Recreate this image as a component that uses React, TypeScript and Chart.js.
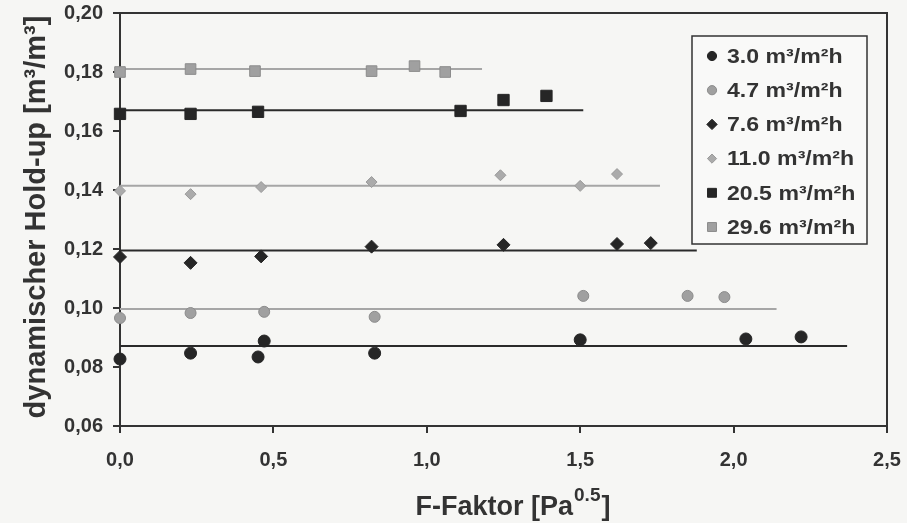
import React, { useEffect, useRef } from 'react';
import { Chart, registerables } from 'chart.js';

Chart.register(...registerables);

// ---------- data ----------
const seriesLabels = ['3.0 m³/m²h', '4.7 m³/m²h', '7.6 m³/m²h', '11.0 m³/m²h', '20.5 m³/m²h', '29.6 m³/m²h'];

const x30 = [0.0, 0.23, 0.45, 0.47, 0.83, 1.5, 2.04, 2.22];
const y30 = [0.0827, 0.0847, 0.0834, 0.0888, 0.0847, 0.0892, 0.0895, 0.0902];

const x47 = [0.0, 0.23, 0.47, 0.83, 1.51, 1.85, 1.97];
const y47 = [0.0966, 0.0983, 0.0987, 0.097, 0.1041, 0.1041, 0.1037];

const x76 = [0.0, 0.23, 0.46, 0.82, 1.25, 1.62, 1.73];
const y76 = [0.1173, 0.1153, 0.1175, 0.1208, 0.1214, 0.1217, 0.122];

const x110 = [0.0, 0.23, 0.46, 0.82, 1.24, 1.5, 1.62];
const y110 = [0.1397, 0.1386, 0.141, 0.1427, 0.145, 0.1414, 0.1454];

const x205 = [0.0, 0.23, 0.45, 1.11, 1.25, 1.39];
const y205 = [0.1658, 0.1658, 0.1665, 0.1668, 0.1705, 0.1719];

const x296 = [0.0, 0.23, 0.44, 0.82, 0.96, 1.06];
const y296 = [0.18, 0.181, 0.1803, 0.1803, 0.182, 0.18];

const fitLevels = [0.0871, 0.0997, 0.1195, 0.1414, 0.167, 0.181];
const fitStarts = [0, 0, 0, 0, 0, 0];
const fitEnds = [2.37, 2.14, 1.88, 1.76, 1.51, 1.18];

const xMin = 0;
const xMax = 2.5;
const xStep = 0.5;
const yMin = 0.06;
const yMax = 0.2;
const yStep = 0.02;

const xTitleMain = 'F-Faktor [Pa';
const xTitleSup = '0.5';
const xTitleEnd = ']';
const yTitle = 'dynamischer Hold-up [m³/m³]';

// ---------- styles ----------
const FONT = '"Liberation Sans", Arial, Helvetica, sans-serif';
const TEXT = '#333333';
const markerStyles = [
  { shape: 'circle', fill: '#262626', stroke: '#262626', r: 6, lr: 4.6 },
  { shape: 'circle', fill: '#a0a0a0', stroke: '#8c8c8c', r: 5.5, lr: 4.6 },
  { shape: 'rectRot', fill: '#262626', stroke: '#262626', r: 6.5, lr: 5.2 },
  { shape: 'rectRot', fill: '#ababab', stroke: '#9a9a9a', r: 5.5, lr: 4.6 },
  { shape: 'rect', fill: '#262626', stroke: '#262626', r: 8, lr: 6.3 },
  { shape: 'rect', fill: '#a0a0a0', stroke: '#8c8c8c', r: 7.5, lr: 6.3 },
];
const lineStyles = [
  { color: '#2a2a2a', width: 2 },
  { color: '#a6a6a6', width: 2 },
  { color: '#2a2a2a', width: 2 },
  { color: '#a6a6a6', width: 2 },
  { color: '#2a2a2a', width: 2 },
  { color: '#a6a6a6', width: 2 },
];

const seriesX = [x30, x47, x76, x110, x205, x296];
const seriesY = [y30, y47, y76, y110, y205, y296];

function drawMarker(ctx: CanvasRenderingContext2D, shape: string, x: number, y: number, r: number, fill: string, stroke: string) {
  ctx.save();
  ctx.fillStyle = fill;
  ctx.strokeStyle = stroke;
  ctx.lineWidth = 1;
  ctx.beginPath();
  if (shape === 'circle') {
    ctx.arc(x, y, r, 0, Math.PI * 2);
  } else if (shape === 'rectRot') {
    ctx.moveTo(x, y - r);
    ctx.lineTo(x + r, y);
    ctx.lineTo(x, y + r);
    ctx.lineTo(x - r, y);
    ctx.closePath();
  } else {
    const h = r * Math.SQRT1_2;
    ctx.rect(x - h, y - h, 2 * h, 2 * h);
  }
  ctx.fill();
  ctx.stroke();
  ctx.restore();
}

const decorPlugin = {
  id: 'decor',
  beforeDraw(chart: any) {
    const { ctx, width, height } = chart;
    ctx.save();
    ctx.fillStyle = '#f6f6f4';
    ctx.fillRect(0, 0, width, height);
    ctx.restore();
  },
  beforeDatasetsDraw(chart: any) {
    const { ctx, chartArea } = chart;
    ctx.save();
    ctx.strokeStyle = TEXT;
    ctx.lineWidth = 2;
    ctx.beginPath();
    ctx.moveTo(chartArea.left, chartArea.top);
    ctx.lineTo(chartArea.right, chartArea.top);
    ctx.lineTo(chartArea.right, chartArea.bottom);
    ctx.stroke();
    ctx.restore();
  },
  afterDraw(chart: any) {
    const { ctx } = chart;
    // legend
    const lx = 692, ly = 36, lw = 175, lh = 208;
    ctx.save();
    ctx.fillStyle = '#f9f9f8';
    ctx.fillRect(lx, ly, lw, lh);
    ctx.strokeStyle = TEXT;
    ctx.lineWidth = 1.5;
    ctx.strokeRect(lx, ly, lw, lh);
    ctx.font = `bold 21px ${FONT}`;
    ctx.fillStyle = TEXT;
    ctx.textBaseline = 'middle';
    ctx.textAlign = 'left';
    seriesLabels.forEach((lab, i) => {
      const cy = 56 + i * 34.2;
      const m = markerStyles[i];
      drawMarker(ctx, m.shape, 712, cy, m.lr, m.fill, m.stroke);
      ctx.save();
      ctx.translate(727, cy + 1);
      ctx.scale(1.1, 1);
      ctx.fillStyle = TEXT;
      ctx.fillText(lab, 0, 0);
      ctx.restore();
    });
    ctx.restore();

    // y title
    ctx.save();
    ctx.translate(45, 217);
    ctx.rotate(-Math.PI / 2);
    ctx.font = `bold 29px ${FONT}`;
    ctx.fillStyle = TEXT;
    ctx.textAlign = 'center';
    ctx.textBaseline = 'alphabetic';
    ctx.fillText(yTitle, 0, 0);
    ctx.restore();

    // x title with superscript
    ctx.save();
    ctx.fillStyle = TEXT;
    ctx.textBaseline = 'alphabetic';
    ctx.textAlign = 'left';
    const mainFont = `bold 27px ${FONT}`;
    const supFont = `bold 19px ${FONT}`;
    ctx.font = mainFont;
    const w1 = ctx.measureText(xTitleMain).width;
    const w3 = ctx.measureText(xTitleEnd).width;
    ctx.font = supFont;
    const w2 = ctx.measureText(xTitleSup).width;
    const total = w1 + w2 + w3 + 2;
    let x = 513 - total / 2;
    const base = 515;
    ctx.font = mainFont;
    ctx.fillText(xTitleMain, x, base);
    x += w1 + 1;
    ctx.font = supFont;
    ctx.fillText(xTitleSup, x, base - 14);
    x += w2 + 1;
    ctx.font = mainFont;
    ctx.fillText(xTitleEnd, x, base);
    ctx.restore();
  },
};

export default function App() {
  const ref = useRef<HTMLCanvasElement | null>(null);

  useEffect(() => {
    if (!ref.current) return;
    const datasets: any[] = [];
    seriesLabels.forEach((lab, i) => {
      const m = markerStyles[i];
      datasets.push({
        label: lab,
        data: seriesX[i].map((xv, j) => ({ x: xv, y: seriesY[i][j] })),
        pointStyle: m.shape,
        pointRadius: m.r,
        pointBackgroundColor: m.fill,
        pointBorderColor: m.stroke,
        pointBorderWidth: 1,
        showLine: false,
        clip: false,
        order: 0,
      });
    });
    seriesLabels.forEach((lab, i) => {
      const l = lineStyles[i];
      datasets.push({
        label: 'fit ' + lab,
        data: [
          { x: fitStarts[i], y: fitLevels[i] },
          { x: fitEnds[i], y: fitLevels[i] },
        ],
        showLine: true,
        borderColor: l.color,
        borderWidth: l.width,
        pointRadius: 0,
        fill: false,
        order: 1,
      });
    });

    const chart = new Chart(ref.current, {
      type: 'scatter',
      data: { datasets },
      options: {
        animation: false,
        responsive: false,
        layout: { padding: { left: 0, right: 20, top: 13, bottom: 0 } },
        plugins: { legend: { display: false }, tooltip: { enabled: false } },
        scales: {
          x: {
            type: 'linear',
            min: xMin,
            max: xMax,
            afterFit: (s: any) => {
              s.height = 97;
              s.paddingLeft = 0;
              s.paddingRight = 0;
            },
            border: { display: true, color: TEXT, width: 2 },
            grid: { drawOnChartArea: false, drawTicks: true, tickLength: 7, color: TEXT, lineWidth: 2 },
            ticks: {
              stepSize: xStep,
              padding: 15,
              color: TEXT,
              font: { family: FONT, size: 20, weight: 'bold' },
              callback: (v: any) => Number(v).toFixed(1).replace('.', ','),
            },
          },
          y: {
            type: 'linear',
            min: yMin,
            max: yMax,
            afterFit: (s: any) => {
              s.width = 120;
              s.paddingTop = 0;
              s.paddingBottom = 0;
            },
            border: { display: true, color: TEXT, width: 2 },
            grid: { drawOnChartArea: false, drawTicks: true, tickLength: 7, color: TEXT, lineWidth: 2 },
            ticks: {
              stepSize: yStep,
              padding: 10,
              color: TEXT,
              font: { family: FONT, size: 20, weight: 'bold' },
              callback: (v: any) => Number(v).toFixed(2).replace('.', ','),
            },
          },
        },
      },
      plugins: [decorPlugin],
    });
    return () => chart.destroy();
  }, []);

  return (
    <div style={{ position: 'absolute', left: 0, top: 0, width: 907, height: 523 }}>
      <canvas ref={ref} width={907} height={523} />
    </div>
  );
}
